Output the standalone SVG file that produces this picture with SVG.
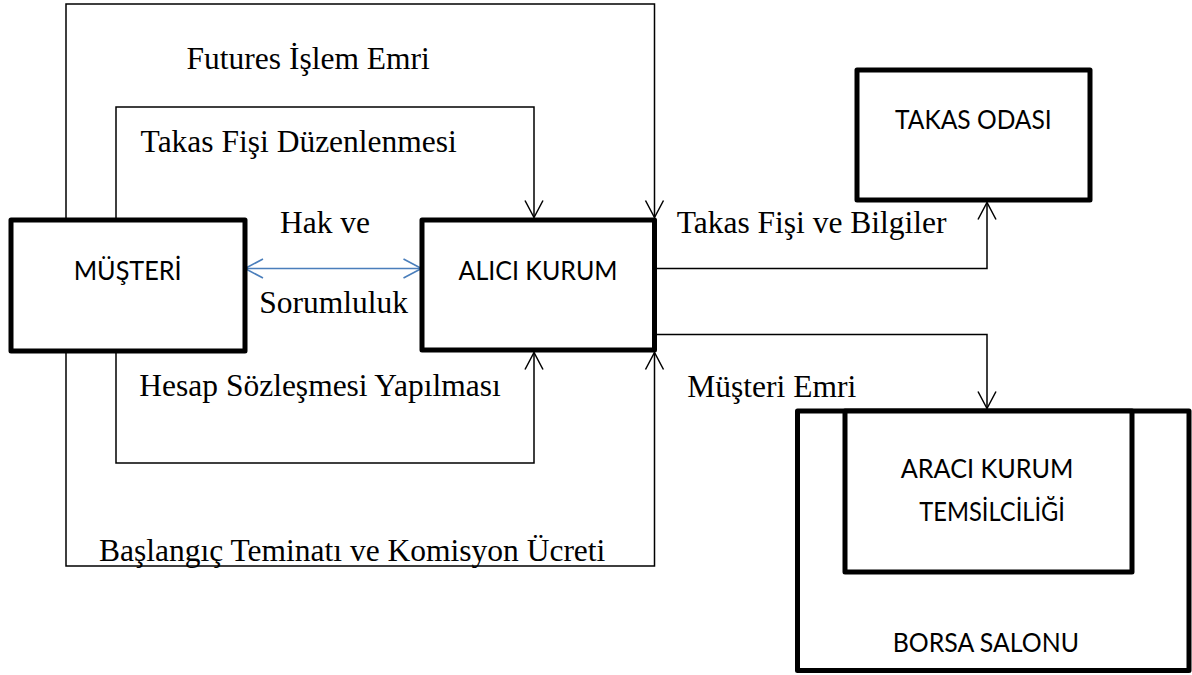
<svg xmlns="http://www.w3.org/2000/svg" width="1192" height="675" viewBox="0 0 1192 675">
<style>
.box{fill:#fff;stroke:#000;stroke-width:5;stroke-linejoin:round}
.ln{fill:none;stroke:#000;stroke-width:1.5}
.blue{fill:none;stroke:#4A7EBB;stroke-width:1.6}
.serif{font-family:"Liberation Serif","Times New Roman",serif;font-size:31.5px;fill:#000}
.sans{font-family:Lato,"Open Sans","Liberation Sans",sans-serif;font-size:26.5px;fill:#000}
</style>
<defs>
<marker id="ah" viewBox="-19 -11 21 22" refX="0" refY="0" markerWidth="21" markerHeight="22" markerUnits="userSpaceOnUse" orient="auto-start-reverse">
<path d="M-17,-9 L0,0 L-17,9" fill="none" stroke="#000" stroke-width="1.5"/>
</marker>
<marker id="ahb" viewBox="-19 -11 21 22" refX="0" refY="0" markerWidth="21" markerHeight="22" markerUnits="userSpaceOnUse" orient="auto-start-reverse">
<path d="M-18,-9.5 L0,0 L-18,9.5" fill="none" stroke="#4A7EBB" stroke-width="1.6"/>
</marker>
</defs>
<rect width="1192" height="675" fill="#fff"/>
<g id="connectors">
<path class="ln" d="M66,220 V4 H654.5 V217.5" marker-end="url(#ah)"/>
<path class="ln" d="M116,220 V107 H534 V217.5" marker-end="url(#ah)"/>
<path class="ln" d="M116,350 V463 H534 V352.5" marker-end="url(#ah)"/>
<path class="ln" d="M66,350 V566 H654.5 V352.5" marker-end="url(#ah)"/>
<path class="ln" d="M654,268.5 H987 V202.5" marker-end="url(#ah)"/>
<path class="ln" d="M654,334.5 H987 V408.5" marker-end="url(#ah)"/>
<path class="blue" d="M245,268.5 H421.5" marker-start="url(#ahb)" marker-end="url(#ahb)"/>
<text class="serif" x="186.6" y="69">Futures İşlem Emri</text>
<text class="serif" x="140.6" y="151.7">Takas Fişi Düzenlenmesi</text>
<text class="serif" x="280" y="233.3">Hak ve</text>
<text class="serif" x="259.3" y="313.3">Sorumluluk</text>
<text class="serif" x="139.3" y="396">Hesap Sözleşmesi Yapılması</text>
<text class="serif" x="99" y="561">Başlangıç Teminatı ve Komisyon Ücreti</text>
<text class="serif" x="676.7" y="232.7">Takas Fişi ve Bilgiler</text>
<text class="serif" x="687.3" y="396.7">Müşteri Emri</text>
</g>
<g id="musteri">
<rect class="box" x="11" y="220" width="234" height="131"/>
<text class="sans" x="73.7" y="280" textLength="108" lengthAdjust="spacingAndGlyphs">MÜŞTERİ</text>
</g>
<g id="alici-kurum">
<rect class="box" x="422" y="220" width="232.5" height="130"/>
<text class="sans" x="458.5" y="280" textLength="159" lengthAdjust="spacingAndGlyphs">ALICI KURUM</text>
</g>
<g id="takas-odasi">
<rect class="box" x="857" y="70" width="233" height="130"/>
<text class="sans" x="895" y="129" textLength="156.7" lengthAdjust="spacingAndGlyphs">TAKAS ODASI</text>
</g>
<g id="borsa-salonu">
<rect class="box" x="797.5" y="411" width="391.5" height="259.5"/>
<text class="sans" x="892.7" y="652" textLength="186.3" lengthAdjust="spacingAndGlyphs">BORSA SALONU</text>
</g>
<g id="araci-kurum">
<rect class="box" x="845" y="411" width="287" height="161"/>
<text class="sans" x="900.7" y="478.3" textLength="172.7" lengthAdjust="spacingAndGlyphs">ARACI KURUM</text>
<text class="sans" x="919.3" y="520.7" textLength="145.7" lengthAdjust="spacingAndGlyphs">TEMSİLCİLİĞİ</text>
</g>
</svg>
